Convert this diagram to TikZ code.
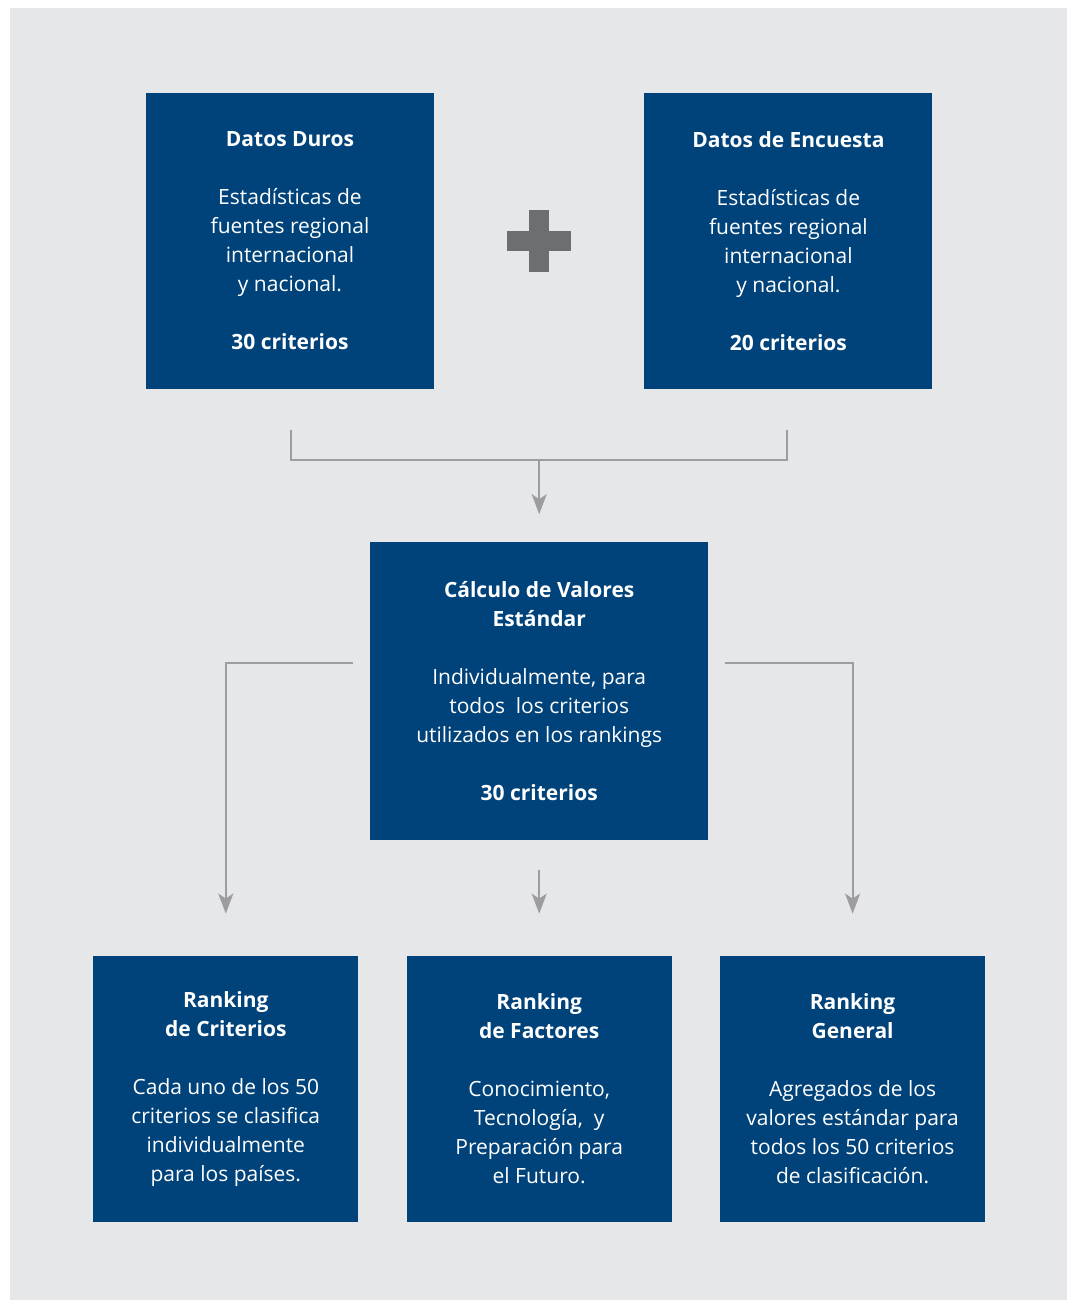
\documentclass[tikz,border=0pt]{standalone}
\usepackage{fontspec}
\setmainfont{Open Sans}
\usepackage{tikz}
\usepackage{xcolor}
\usetikzlibrary{arrows.meta,positioning,calc}

\definecolor{boxblue}{RGB}{0,67,122}
\definecolor{bggrey}{RGB}{230,231,232}
\definecolor{plusgrey}{RGB}{109,110,113}
\definecolor{linegrey}{RGB}{157,157,159}

\begin{document}
\begin{tikzpicture}[
    x=1pt, y=1pt,
    box/.style={rectangle, fill=boxblue, text=white, align=center, inner sep=0pt,
        minimum width=288pt, minimum height=296pt, font=\fontsize{21}{29}\selectfont},
    calcbox/.style={box, minimum width=338pt, minimum height=298pt},
    rankbox/.style={box, minimum width=265pt, minimum height=266pt},
    conn/.style={draw=linegrey, line width=2pt},
    arrow/.style={conn, -{Stealth[length=20pt, width=15pt, inset=5pt]}}
]
    % background
    \useasboundingbox (0,0) rectangle (1067,-1300);
    \fill[bggrey] (10,-8) rectangle (1067,-1300);

    % data sources
    \node[box] (duros) at (290,-241) {\textbf{Datos Duros}\\[29pt]
        Estadísticas de\\ fuentes regional\\ internacional\\ y nacional.\\[29pt]
        \textbf{30 criterios}};
    \node[box, right=210pt of duros] (encuesta) {\textbf{Datos de Encuesta}\\[29pt]
        Estadísticas de\\ fuentes regional\\ internacional\\ y nacional.\\[29pt]
        \textbf{20 criterios}};

    % plus sign
    \coordinate (plus) at ($(duros.east)!0.5!(encuesta.west)$);
    \fill[plusgrey] ($(plus)+(-10,-31)$) rectangle ($(plus)+(10,31)$);
    \fill[plusgrey] ($(plus)+(-32,-10)$) rectangle ($(plus)+(32,10)$);

    % standard values
    \coordinate (mid) at ($(duros.south)!0.5!(encuesta.south)$);
    \node[calcbox, below=153pt of mid] (calc) {\textbf{Cálculo de Valores}\\ \textbf{Estándar}\\[29pt]
        Individualmente, para\\ todos\ \ los criterios\\ utilizados en los rankings\\[29pt]
        \textbf{30 criterios}};

    % rankings
    \node[rankbox, below=115pt of calc] (factores) {\textbf{Ranking}\\ \textbf{de Factores}\\[29pt]
        Conocimiento,\\ Tecnología,\ \ y\\ Preparación para\\ el Futuro.};
    \node[rankbox, left=48pt of factores] (criterios) {\textbf{Ranking}\\ \textbf{de Criterios}\\[29pt]
        Cada uno de los 50\\ criterios se clasifica\\ individualmente\\ para los países.};
    \node[rankbox, right=48pt of factores] (general) {\textbf{Ranking}\\ \textbf{General}\\[29pt]
        Agregados de los\\ valores estándar para\\ todos los 50 criterios\\ de clasificación.};

    % connector ends
    \coordinate (durosout) at ($(duros.south)+(1,-41)$);
    \coordinate (encout) at ($(encuesta.south)+(-1,-41)$);
    \coordinate (join) at ($(mid)+(0,-71)$);
    \coordinate (calcin) at ($(calc.north)+(0,28)$);
    \coordinate (leftout) at ($(calc.north west)+(-17,-121)$);
    \coordinate (rightout) at ($(calc.north east)+(17,-121)$);
    \coordinate (midout) at ($(calc.south)+(0,-29)$);
    \coordinate (critin) at ($(criterios.north)+(0,42)$);
    \coordinate (factin) at ($(factores.north)+(0,42)$);
    \coordinate (genin) at ($(general.north)+(0,42)$);

    % arrows
    \draw[conn] (durosout) |- (join) -| (encout);
    \draw[arrow] (join) -- (calcin);
    \draw[arrow] (leftout) -| (critin);
    \draw[arrow] (rightout) -| (genin);
    \draw[arrow] (midout) -- (factin);
\end{tikzpicture}
\end{document}
